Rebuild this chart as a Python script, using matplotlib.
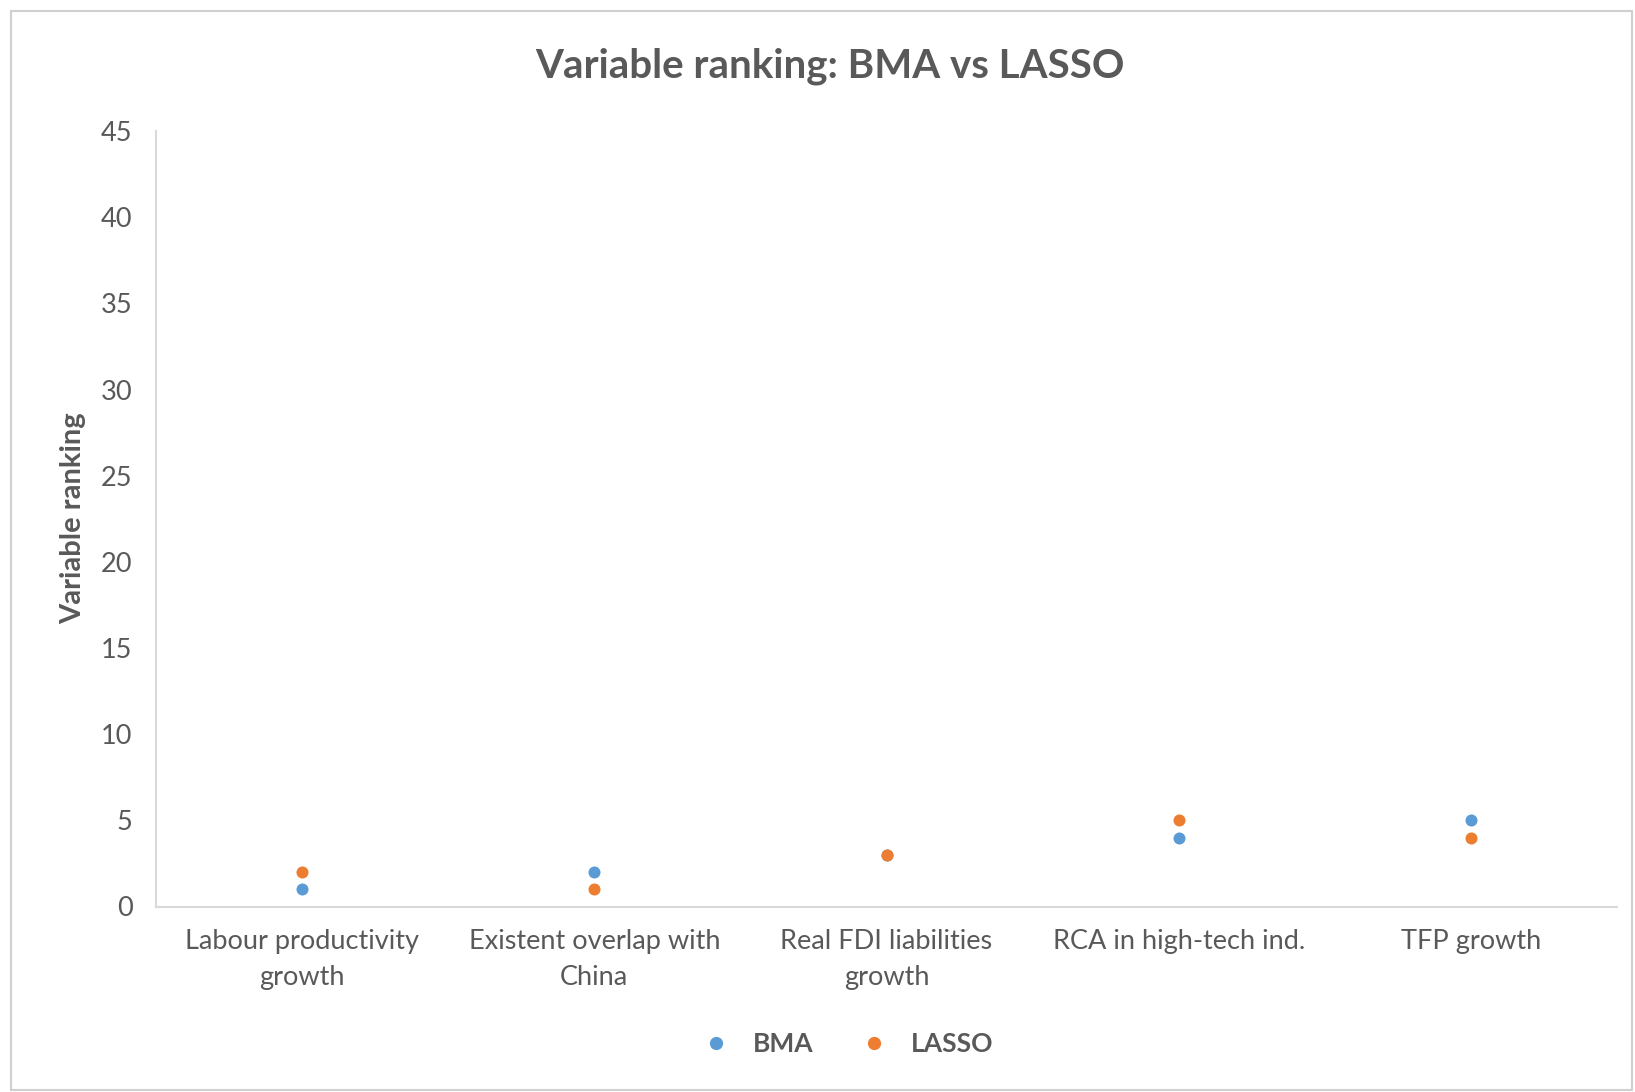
import matplotlib
matplotlib.use("Agg")
import matplotlib.pyplot as plt
from matplotlib.patches import Rectangle
from matplotlib.lines import Line2D

categories = ["Labour productivity\ngrowth", "Existent overlap with\nChina",
              "Real FDI liabilities\ngrowth", "RCA in high-tech ind.", "TFP growth"]
bma = [1, 2, 3, 4, 5]
lasso = [2, 1, 3, 5, 4]
y_ticks = [0, 5, 10, 15, 20, 25, 30, 35, 40, 45]

BLUE = "#5B9BD5"
ORANGE = "#ED7D31"
TEXT = "#595959"
AXIS = "#D9D9D9"

plt.rcParams["font.family"] = ["Lato", "DejaVu Sans"]

W, H = 1635, 1092
fig = plt.figure(figsize=(W / 100, H / 100), dpi=100)

# chart frame
fig.patches.append(Rectangle((11 / W, 2 / H), (W - 14) / W, (H - 13) / H,
                             transform=fig.transFigure, fill=False,
                             edgecolor="#D0D0D0", linewidth=1.5))

left, right, top, bottom = 156, 1617, 131, 906.5
ax = fig.add_axes([left / W, 1 - bottom / H, (right - left) / W, (bottom - top) / H])

x = list(range(len(categories)))
ax.scatter(x, bma, s=75, color=BLUE, zorder=3, linewidths=0)
ax.scatter(x, lasso, s=75, color=ORANGE, zorder=4, linewidths=0)

ax.set_xlim(-0.5, len(categories) - 0.5)
ax.set_ylim(0, 45)
ax.set_yticks(y_ticks)
ax.set_xticks(x)
ax.set_xticklabels(categories, fontsize=19.5, color=TEXT, linespacing=1.55)
ax.tick_params(axis="y", labelsize=19.5, labelcolor=TEXT, length=0, pad=17)
ax.tick_params(axis="x", length=0, pad=16)

for s in ["top", "right"]:
    ax.spines[s].set_visible(False)
for s in ["left", "bottom"]:
    ax.spines[s].set_color(AXIS)
    ax.spines[s].set_linewidth(1.5)

fig.text(73 / W, 1 - 518 / H, "Variable ranking", rotation=90, ha="center",
         va="center", fontsize=21, fontweight="bold", color=TEXT)

fig.text(830 / W, 1 - 66 / H, "Variable ranking: BMA vs LASSO",
         ha="center", va="center", fontsize=29, fontweight="bold", color=TEXT)

handles = [Line2D([], [], marker="o", linestyle="", color=BLUE, markersize=8.5),
           Line2D([], [], marker="o", linestyle="", color=ORANGE, markersize=8.5)]
leg = fig.legend(handles, ["BMA", "LASSO"], loc="center", ncol=2,
                 bbox_to_anchor=(848 / W, 1 - 1044 / H), frameon=False,
                 prop={"size": 19, "weight": "bold"}, labelcolor=TEXT,
                 handletextpad=0.9, columnspacing=1.8, handlelength=1.0)

fig.savefig("out.png", dpi=100)
